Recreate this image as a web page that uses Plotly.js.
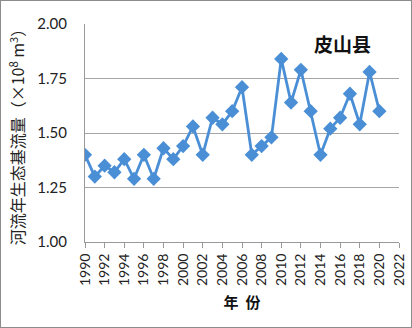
<!DOCTYPE html>
<html><head><meta charset="utf-8">
<script src="https://cdn.plot.ly/plotly-3.0.1.min.js"></script>
<style>html,body{margin:0;padding:0;background:#fff;}#c{width:412px;height:328px;box-sizing:border-box;border:1px solid #8c8c8c;}</style>
</head><body><div id="c"></div>
<script>
const years = [1990,1991,1992,1993,1994,1995,1996,1997,1998,1999,2000,2001,2002,2003,2004,2005,2006,2007,2008,2009,2010,2011,2012,2013,2014,2015,2016,2017,2018,2019,2020];
const baseflow = [1.40,1.30,1.35,1.32,1.38,1.29,1.40,1.29,1.43,1.38,1.44,1.53,1.40,1.57,1.54,1.60,1.71,1.40,1.44,1.48,1.84,1.64,1.79,1.60,1.40,1.52,1.57,1.68,1.54,1.78,1.60];
const xTicks = [1990,1992,1994,1996,1998,2000,2002,2004,2006,2008,2010,2012,2014,2016,2018,2020,2022];
const yTicks = [1.00,1.25,1.50,1.75,2.00];
const countyName = "皮山县";

const fontNum = "Lato, 'Liberation Sans', sans-serif";
const fontCJK = "'Noto Sans CJK SC', sans-serif";

Plotly.newPlot('c', [{
  x: years, y: baseflow, type: 'scatter', mode: 'lines+markers',
  line: {color: '#4a8fd6', width: 2.8},
  marker: {symbol: 'diamond', size: 11, color: '#4a8fd6'}
}], {
  width: 410, height: 326,
  margin: {l: 84, r: 12, t: 23, b: 85},
  paper_bgcolor: '#fff', plot_bgcolor: '#fff',
  showlegend: false,
  xaxis: {
    range: [1990, 2022], tickvals: xTicks, ticktext: xTicks.map(String),
    tickangle: -90, ticks: 'outside', ticklen: 5, tickcolor: '#999',
    showgrid: false, showline: true, linecolor: '#999', linewidth: 1, zeroline: false,
    tickfont: {family: fontNum, size: 14, color: '#222'},
    title: {text: '年\u00a0\u00a0份', font: {family: fontCJK, size: 15, color: '#111', weight: 'bold'}, standoff: 12}
  },
  yaxis: {
    range: [1, 2], tickvals: yTicks, ticktext: yTicks.map(v => v.toFixed(2)),
    showgrid: true, gridcolor: '#a6a6a6', gridwidth: 1,
    showline: true, linecolor: '#999', linewidth: 1, zeroline: false,
    ticks: '', ticklabelstandoff: 14, tickfont: {family: fontNum, size: 15, color: '#222'},
    title: {text: '河流年生态基流量（×10<sup>8</sup> m<sup>3</sup>）', font: {family: fontCJK, size: 16, color: '#222'}, standoff: 8}
  },
  annotations: [{
    text: countyName, xref: 'paper', yref: 'paper', x: 0.82, y: 0.91,
    xanchor: 'center', yanchor: 'middle',
    showarrow: false, font: {family: fontCJK, size: 19, color: '#111', weight: 'bold'}
  }]
}, {displayModeBar: false, staticPlot: true});
</script></body></html>
